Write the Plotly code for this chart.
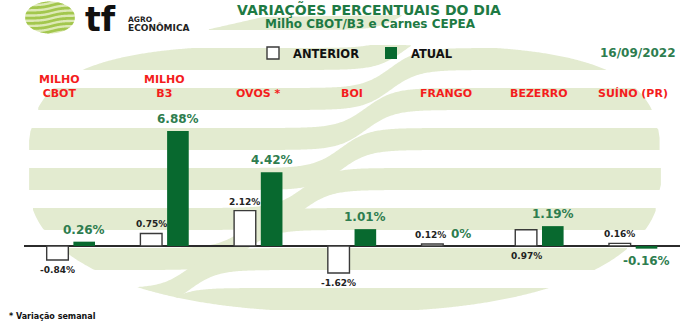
import numpy as np
import plotly.graph_objects as go

# ---------------- data ----------------
categories = ["MILHO<br>CBOT", "MILHO<br>B3", "OVOS *", "BOI", "FRANGO", "BEZERRO", "SUÍNO (PR)"]
anterior = [-0.84, 0.75, 2.12, -1.62, 0.12, 0.97, 0.16]
atual = [0.26, 6.88, 4.42, 1.01, 0.0, 1.19, -0.16]
series_names = ["ANTERIOR", "ATUAL"]
title_text = "VARIAÇÕES PERCENTUAIS DO DIA"
subtitle_text = "Milho CBOT/B3 e Carnes CEPEA"
date_text = "16/09/2022"
footnote_text = "* Variação semanal"

# ---------------- layout constants ----------------
W, H = 682, 322
ML, MR, MT, MB = 24, 2, 40, 22
PW, PH = W - ML - MR, H - MT - MB
ZERO_PX = 246
PX_PER_UNIT = 16.7
Y_MAX = (ZERO_PX - MT) / PX_PER_UNIT
Y_MIN = -(H - MB - ZERO_PX) / PX_PER_UNIT
BARGAP, GROUPGAP = 0.43, 0.19
OFF = (1 - BARGAP) / 4

FONT = "DejaVu Sans"
GREEN_BAR = "#08692F"
GREEN_TXT = "#2E7D4F"
TITLE_GREEN = "#1E7A44"
RED = "#F41C1C"
WM = "#E3EBD0"


def px(x):
    return (x - ML) / PW


def py(y):
    return (H - MB - y) / PH


def sig(t):
    return 1 / (1 + np.exp(-t))


def band_paths(xs, ytop, ybot, lo, hi):
    """clip band [ytop, ybot] to region [lo, hi]; return SVG path(s) in paper coords"""
    t = np.maximum(ytop, lo)
    b = np.minimum(ybot, hi)
    ok = t < b
    paths = []
    idx = np.where(ok)[0]
    if len(idx) == 0:
        return paths
    runs = np.split(idx, np.where(np.diff(idx) != 1)[0] + 1)
    for r in runs:
        if len(r) < 2:
            continue
        pts = [(xs[i], t[i]) for i in r] + [(xs[i], b[i]) for i in r[::-1]]
        paths.append("M" + "L".join(f"{px(x):.5f},{py(y):.5f}" for x, y in pts) + "Z")
    return paths


shapes = []

# ---------------- watermark (big striped logo) ----------------
CX, CY, RX, RY = 344.5, 178.5, 316.5, 133.5
xs = np.linspace(20, 670, 500)
u = np.abs((xs - CX) / RX)
inside = np.clip(1 - u ** 3.5, 0, None)
top_b = np.where(u < 1, CY - RY * inside ** (1 / 3.5), 1e9)
inside2 = np.clip(1 - u ** 2.3, 0, None)
bot_b = np.where(u < 1, CY + RY * inside2 ** (1 / 2.3), -1e9)
for a in [8, 48, 88, 128, 168, 208, 248, 288, 328]:
    xc = np.interp(a - 9, [0, 40, 80, 183, 278, 330], [410, 405, 390, 326, 190, 150])
    yt = a - 40 * sig((xs - xc) / 14)
    lo = top_b
    if a == 8:
        lo = np.where(xs >= 208, np.interp(xs, [208, 263, 400], [29.5, 17, 15]), 1e9)
    for p in band_paths(xs, yt, yt + 22, lo, bot_b):
        shapes.append(dict(type="path", path=p, xref="paper", yref="paper",
                           fillcolor=WM, line=dict(width=0), layer="below"))

# ---------------- small logo ----------------
LX, LY, LRX, LRY = 50, 17.5, 25, 16
xs2 = np.linspace(LX - LRX, LX + LRX, 160)
u2 = np.clip(1 - ((xs2 - LX) / LRX) ** 2, 0, None)
ltop = LY - LRY * np.sqrt(u2)
lbot = LY + LRY * np.sqrt(u2)
shapes.append(dict(type="path", xref="paper", yref="paper", layer="below",
                   path="M" + "L".join(f"{px(x):.5f},{py(y):.5f}" for x, y in
                                       list(zip(xs2, ltop)) + list(zip(xs2[::-1], lbot[::-1]))) + "Z",
                   fillcolor="#DDE9B6", line=dict(width=0)))
for a in np.arange(-4, 44, 5.2):
    yt = a - 5.2 * sig((xs2 - 52) / 5)
    for p in band_paths(xs2, yt, yt + 2.8, ltop, lbot):
        shapes.append(dict(type="path", path=p, xref="paper", yref="paper",
                           fillcolor="#A3C74E", line=dict(width=0), layer="below"))

# ---------------- traces ----------------
xidx = list(range(len(categories)))
fig = go.Figure()
fig.add_trace(go.Bar(x=xidx, y=anterior, name=series_names[0],
                     marker=dict(color="white", line=dict(color="#3A3A3A", width=1.4))))
fig.add_trace(go.Bar(x=xidx, y=atual, name=series_names[1],
                     marker=dict(color=GREEN_BAR, line=dict(width=0))))

ann = []
# category labels
for i, c in enumerate(categories):
    ann.append(dict(x=i, xref="x", y=py(102), yref="paper", text=c, showarrow=False,
                    xanchor="center", yanchor="bottom", xshift=-11 if i == 0 else 0,
                    font=dict(family=FONT, size=11, color=RED, weight="bold")))

below_axis = {"BEZERRO"}
for i, v in enumerate(anterior):
    txt = "0%" if v == 0 else f"{v:.2f}%"
    if categories[i] in below_axis:
        yy, ya, ys = 0, "top", -3
    elif v >= 0:
        yy, ya, ys = v, "bottom", 2
    else:
        yy, ya, ys = v, "top", -3
    ann.append(dict(x=i - OFF, xref="x", y=yy, yref="y", text=txt, showarrow=False,
                    xanchor="center", yanchor=ya, yshift=ys,
                    xshift=-2 if v == 0.12 else 0,
                    font=dict(family=FONT, size=9, color="#222222", weight="bold")))
for i, v in enumerate(atual):
    txt = "0%" if v == 0 else f"{v:.2f}%"
    if v >= 0:
        yy, ya, ys = v, "bottom", 3
    else:
        yy, ya, ys = v, "top", -3
    ann.append(dict(x=i + OFF, xref="x", y=yy, yref="y", text=txt, showarrow=False,
                    xanchor="center", yanchor=ya, yshift=ys,
                    xshift=2 if v == 0 else 0,
                    font=dict(family=FONT, size=12, color=GREEN_TXT, weight="bold")))

# titles & misc text
ann.append(dict(x=px(369), y=py(9.5), xref="paper", yref="paper", text=title_text,
                showarrow=False, xanchor="center", yanchor="middle",
                font=dict(family=FONT, size=14, color=TITLE_GREEN, weight="bold")))
ann.append(dict(x=px(370), y=py(24), xref="paper", yref="paper", text=subtitle_text,
                showarrow=False, xanchor="center", yanchor="middle",
                font=dict(family=FONT, size=12, color=TITLE_GREEN, weight="bold")))
ann.append(dict(x=px(678), y=py(53), xref="paper", yref="paper", text=date_text,
                showarrow=False, xanchor="right", yanchor="middle",
                font=dict(family=FONT, size=12, color=GREEN_TXT, weight="bold")))
ann.append(dict(x=px(7), y=py(316), xref="paper", yref="paper", text=footnote_text,
                showarrow=False, xanchor="left", yanchor="middle",
                font=dict(family=FONT, size=8, color="#111111", weight="bold")))
# logo text
ann.append(dict(x=px(84), y=py(19), xref="paper", yref="paper", text="tf",
                showarrow=False, xanchor="left", yanchor="middle", borderpad=0,
                font=dict(family=FONT, size=33, color="#111111", weight="bold")))
ann.append(dict(x=px(127), y=py(19.5), xref="paper", yref="paper", text="AGRO",
                showarrow=False, xanchor="left", yanchor="middle", borderpad=0,
                font=dict(family=FONT, size=7.5, color="#222222", weight="bold")))
ann.append(dict(x=px(127), y=py(27.5), xref="paper", yref="paper", text="ECONÔMICA",
                showarrow=False, xanchor="left", yanchor="middle", borderpad=0,
                font=dict(family=FONT, size=9, color="#222222", weight="bold")))

fig.update_layout(
    width=W, height=H,
    margin=dict(l=ML, r=MR, t=MT, b=MB, pad=0),
    paper_bgcolor="white", plot_bgcolor="rgba(0,0,0,0)",
    barmode="group", bargap=BARGAP, bargroupgap=GROUPGAP,
    shapes=shapes, annotations=ann,
    showlegend=True,
    legend=dict(orientation="h", x=px(253), y=py(53), xanchor="left", yanchor="middle",
                xref="paper", yref="paper", bgcolor="rgba(0,0,0,0)",
                font=dict(family=FONT, size=11.5, color="#111111", weight="bold"),
                entrywidthmode="pixels", entrywidth=73, itemwidth=30),
    xaxis=dict(range=[-0.5, len(categories) - 0.5], showticklabels=False, showgrid=False,
               zeroline=False, showline=False, fixedrange=True),
    yaxis=dict(range=[Y_MIN, Y_MAX], showticklabels=False, showgrid=False,
               zeroline=True, zerolinecolor="#2B2B2B", zerolinewidth=1.5, showline=False),
)

fig.write_html("out.html")
